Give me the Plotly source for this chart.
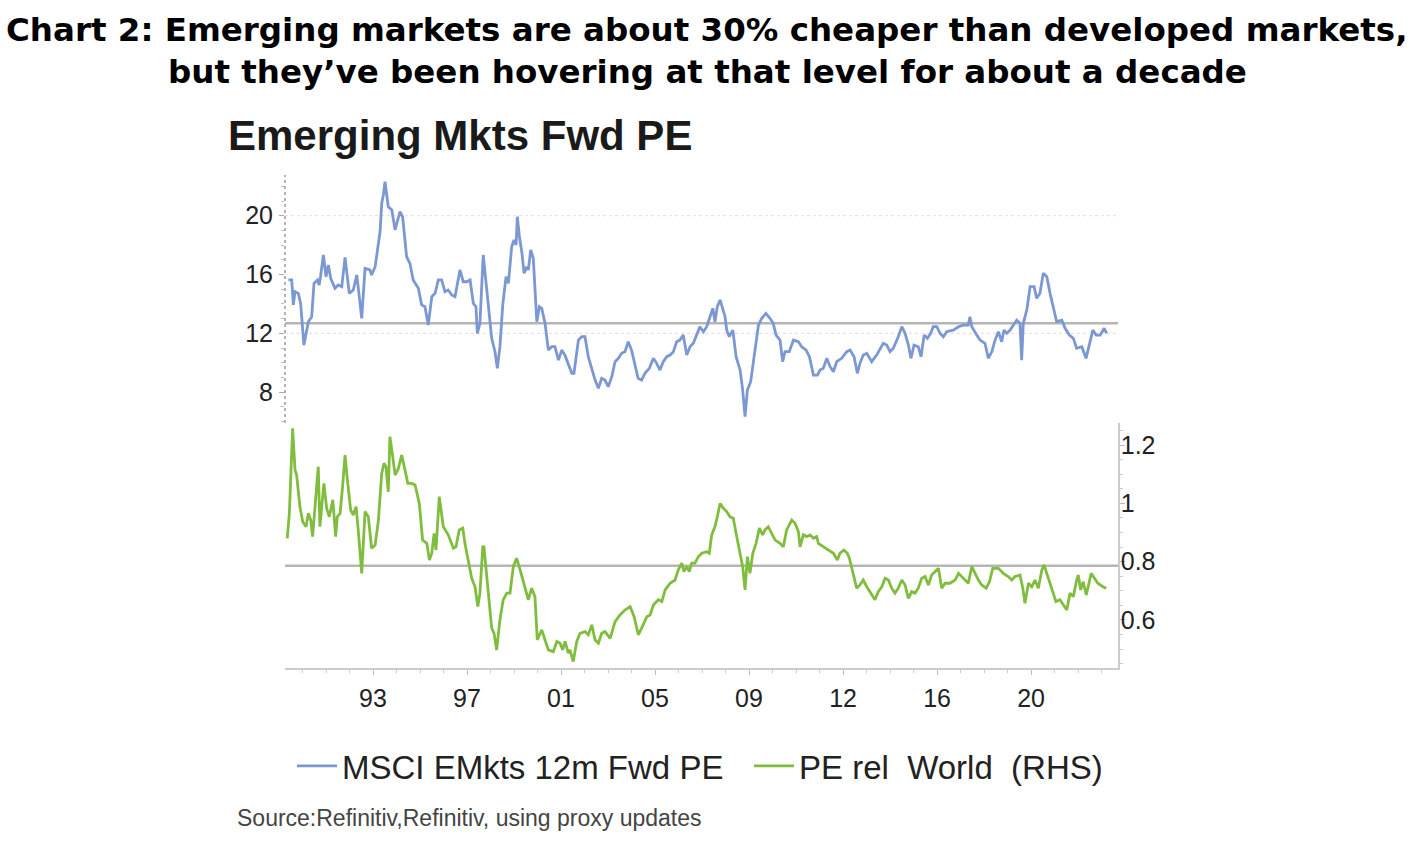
import plotly.graph_objects as go

# ---------------- data ----------------
pe_years = [1989.40, 1989.54, 1989.61, 1989.68, 1989.82, 1989.92, 1990.06, 1990.25, 1990.39, 1990.49,
            1990.63, 1990.71, 1990.77, 1990.89, 1991.00, 1991.10, 1991.20, 1991.38, 1991.52, 1991.67,
            1991.81, 1991.88, 1991.99, 1992.16, 1992.31, 1992.52, 1992.66, 1992.87, 1992.94, 1993.09,
            1993.23, 1993.30, 1993.37, 1993.44, 1993.51, 1993.58, 1993.65, 1993.80, 1993.94, 1994.01,
            1994.15, 1994.26, 1994.43, 1994.57, 1994.71, 1994.93, 1995.07, 1995.21, 1995.35, 1995.50,
            1995.64, 1995.78, 1995.92, 1996.06, 1996.20, 1996.35, 1996.49, 1996.70, 1996.84, 1996.99,
            1997.13, 1997.27, 1997.38, 1997.44, 1997.55, 1997.69, 1997.81, 1997.91, 1998.05, 1998.19,
            1998.29, 1998.40, 1998.52, 1998.66, 1998.76, 1998.90, 1999.00, 1999.09, 1999.14, 1999.23,
            1999.33, 1999.43, 1999.54, 1999.61, 1999.71, 1999.82, 1999.97, 2000.08, 2000.18, 2000.32,
            2000.46, 2000.60, 2000.74, 2000.89, 2001.03, 2001.17, 2001.31, 2001.46, 2001.55, 2001.74,
            2001.88, 2002.02, 2002.16, 2002.31, 2002.45, 2002.59, 2002.73, 2002.87, 2003.01, 2003.16,
            2003.30, 2003.44, 2003.58, 2003.72, 2003.86, 2004.00, 2004.14, 2004.28, 2004.43, 2004.57,
            2004.76, 2004.93, 2005.07, 2005.21, 2005.35, 2005.50, 2005.64, 2005.78, 2005.92, 2006.06,
            2006.20, 2006.35, 2006.49, 2006.63, 2006.77, 2006.91, 2007.06, 2007.20, 2007.34, 2007.46,
            2007.55, 2007.65, 2007.77, 2007.88, 2007.98, 2008.05, 2008.16, 2008.31, 2008.45, 2008.62,
            2008.73, 2008.83, 2008.93, 2009.07, 2009.21, 2009.40, 2009.54, 2009.72, 2009.89, 2010.03,
            2010.15, 2010.32, 2010.43, 2010.53, 2010.71, 2010.89, 2011.10, 2011.24, 2011.43, 2011.57,
            2011.74, 2011.91, 2012.02, 2012.16, 2012.31, 2012.45, 2012.59, 2012.73, 2012.94, 2013.16,
            2013.30, 2013.47, 2013.61, 2013.72, 2013.86, 2014.01, 2014.22, 2014.43, 2014.71, 2014.86,
            2015.00, 2015.14, 2015.35, 2015.50, 2015.64, 2015.78, 2015.89, 2016.02, 2016.20, 2016.32,
            2016.45, 2016.59, 2016.73, 2016.84, 2016.99, 2017.13, 2017.27, 2017.41, 2017.69, 2017.91,
            2018.12, 2018.33, 2018.40, 2018.48, 2018.69, 2018.83, 2019.04, 2019.18, 2019.33, 2019.47,
            2019.61, 2019.75, 2019.85, 2019.97, 2020.11, 2020.25, 2020.39, 2020.53, 2020.60, 2020.67,
            2020.82, 2020.96, 2021.13, 2021.24, 2021.38, 2021.52, 2021.67, 2021.81, 2021.95, 2022.09,
            2022.31, 2022.45, 2022.63, 2022.80, 2022.94, 2023.16, 2023.34, 2023.48, 2023.63, 2023.77,
            2023.94, 2024.11, 2024.22]
pe_values = [15.63, 15.63, 13.93, 14.83, 14.72, 14.04, 11.20, 12.79, 13.13, 15.40,
             15.63, 15.29, 15.90, 17.33, 15.85, 16.65, 15.74, 15.06, 15.29, 15.17,
             17.17, 16.31, 14.72, 14.95, 15.97, 13.02, 16.42, 16.31, 15.97, 16.53,
             18.12, 18.91, 20.84, 21.41, 22.31, 21.29, 20.61, 20.39, 19.03, 19.48,
             20.27, 19.93, 17.21, 16.76, 15.63, 15.06, 13.93, 13.81, 12.56, 14.49,
             14.72, 15.63, 15.63, 14.83, 14.95, 14.61, 14.49, 16.31, 15.51, 15.51,
             15.63, 14.04, 13.81, 12.00, 12.68, 17.33, 15.40, 14.27, 11.66, 10.75,
             9.62, 11.09, 13.93, 15.85, 15.40, 17.89, 18.35, 18.01, 19.93, 18.57,
             17.55, 16.08, 16.53, 16.31, 17.67, 17.10, 12.79, 13.81, 13.70, 12.68,
             10.86, 11.09, 11.09, 10.18, 10.86, 10.50, 9.90, 9.28, 9.28, 11.54,
             11.77, 11.77, 10.41, 9.62, 8.82, 8.26, 8.94, 8.82, 8.37, 9.05,
             10.07, 10.30, 10.64, 10.75, 11.43, 10.86, 9.96, 8.94, 8.82, 9.28,
             9.62, 10.30, 9.96, 9.50, 10.07, 10.41, 10.52, 10.75, 11.43, 11.54,
             11.88, 10.52, 11.09, 11.32, 11.88, 12.45, 12.11, 12.45, 13.13, 13.70,
             12.79, 13.81, 14.27, 13.59, 13.13, 12.22, 11.77, 12.22, 10.41, 9.50,
             8.14, 6.33, 8.14, 8.71, 10.41, 12.56, 13.02, 13.36, 13.02, 12.68,
             11.88, 11.54, 10.07, 10.75, 10.75, 11.54, 11.43, 11.09, 10.86, 10.41,
             9.16, 9.16, 9.50, 9.62, 10.30, 9.73, 9.39, 10.07, 10.30, 10.75,
             10.86, 10.41, 9.28, 9.96, 10.52, 10.64, 10.07, 10.52, 11.32, 11.20,
             10.75, 10.98, 11.77, 12.45, 12.00, 11.20, 10.30, 11.20, 11.09, 10.41,
             11.88, 11.66, 12.00, 12.45, 12.45, 12.00, 11.77, 12.11, 12.22, 12.45,
             12.56, 12.56, 13.13, 12.45, 11.88, 11.54, 11.32, 10.30, 10.75, 11.54,
             12.11, 11.43, 12.22, 12.00, 12.22, 12.56, 12.90, 12.68, 10.18, 12.68,
             13.59, 15.17, 15.17, 14.38, 14.72, 16.08, 15.85, 14.72, 13.81, 12.79,
             12.90, 12.34, 11.88, 11.66, 10.98, 11.09, 10.30, 11.20, 12.22, 11.88,
             11.88, 12.34, 12.00]

rel_years = [1989.35, 1989.44, 1989.58, 1989.68, 1989.75, 1989.89, 1990.01, 1990.15, 1990.25, 1990.35,
             1990.43, 1990.53, 1990.67, 1990.74, 1990.82, 1990.91, 1991.03, 1991.14, 1991.29, 1991.41,
             1991.48, 1991.60, 1991.71, 1991.81, 1991.91, 1992.05, 1992.16, 1992.28, 1992.37, 1992.52,
             1992.66, 1992.80, 1992.94, 1993.09, 1993.23, 1993.37, 1993.47, 1993.55, 1993.65, 1993.72,
             1993.82, 1993.94, 1994.08, 1994.22, 1994.36, 1994.48, 1994.65, 1994.79, 1994.97, 1995.11,
             1995.29, 1995.40, 1995.50, 1995.60, 1995.68, 1995.82, 1995.99, 1996.20, 1996.42, 1996.53,
             1996.67, 1996.82, 1996.91, 1997.06, 1997.20, 1997.34, 1997.46, 1997.55, 1997.67, 1997.72,
             1997.84, 1998.05, 1998.15, 1998.26, 1998.40, 1998.54, 1998.69, 1998.83, 1998.97, 1999.11,
             1999.26, 1999.47, 1999.61, 1999.75, 1999.89, 1999.99, 2000.18, 2000.32, 2000.46, 2000.67,
             2000.82, 2000.96, 2001.07, 2001.17, 2001.31, 2001.38, 2001.52, 2001.67, 2001.81, 2002.02,
             2002.16, 2002.31, 2002.45, 2002.59, 2002.73, 2002.87, 2003.09, 2003.30, 2003.51, 2003.72,
             2003.94, 2004.11, 2004.29, 2004.43, 2004.65, 2004.79, 2004.93, 2005.14, 2005.29, 2005.43,
             2005.64, 2005.85, 2005.99, 2006.14, 2006.23, 2006.35, 2006.46, 2006.56, 2006.70, 2006.84,
             2006.99, 2007.20, 2007.31, 2007.41, 2007.55, 2007.65, 2007.77, 2007.91, 2008.05, 2008.19,
             2008.33, 2008.45, 2008.62, 2008.73, 2008.83, 2008.93, 2009.04, 2009.16, 2009.30, 2009.44,
             2009.58, 2009.68, 2009.82, 2009.97, 2010.11, 2010.32, 2010.46, 2010.60, 2010.82, 2010.96,
             2011.10, 2011.17, 2011.31, 2011.46, 2011.60, 2011.74, 2011.88, 2011.95, 2012.16, 2012.37,
             2012.59, 2012.76, 2012.87, 2013.04, 2013.18, 2013.27, 2013.44, 2013.58, 2013.72, 2013.86,
             2014.01, 2014.15, 2014.36, 2014.50, 2014.65, 2014.79, 2014.93, 2015.07, 2015.21, 2015.35,
             2015.50, 2015.64, 2015.78, 2015.92, 2016.06, 2016.20, 2016.35, 2016.49, 2016.63, 2016.77,
             2016.91, 2017.06, 2017.20, 2017.34, 2017.55, 2017.77, 2017.91, 2018.05, 2018.19, 2018.33,
             2018.48, 2018.62, 2018.76, 2018.90, 2019.09, 2019.23, 2019.37, 2019.61, 2019.82, 2020.03,
             2020.18, 2020.32, 2020.53, 2020.65, 2020.74, 2020.89, 2021.03, 2021.17, 2021.31, 2021.46,
             2021.55, 2021.67, 2021.81, 2021.95, 2022.06, 2022.23, 2022.37, 2022.52, 2022.66, 2022.80,
             2022.94, 2023.01, 2023.11, 2023.22, 2023.35, 2023.48, 2023.56, 2023.70, 2023.84, 2024.06,
             2024.20]
rel_values = [0.880, 0.966, 1.258, 1.115, 1.097, 0.989, 0.937, 0.920, 0.966, 0.943,
              0.886, 1.000, 1.126, 0.920, 1.000, 1.069, 0.983, 0.954, 1.012, 0.886,
              0.954, 0.966, 1.063, 1.166, 1.080, 0.977, 0.960, 0.989, 0.909, 0.760,
              0.972, 0.954, 0.846, 0.857, 0.943, 1.103, 1.138, 1.126, 1.040, 1.229,
              1.172, 1.097, 1.120, 1.166, 1.115, 1.069, 1.069, 1.063, 1.000, 0.874,
              0.863, 0.806, 0.829, 0.897, 0.840, 1.023, 0.920, 0.892, 0.846, 0.851,
              0.909, 0.915, 0.863, 0.806, 0.743, 0.714, 0.646, 0.692, 0.851, 0.851,
              0.749, 0.572, 0.554, 0.497, 0.600, 0.669, 0.692, 0.692, 0.783, 0.812,
              0.772, 0.714, 0.669, 0.709, 0.680, 0.531, 0.566, 0.531, 0.497, 0.491,
              0.526, 0.520, 0.497, 0.526, 0.486, 0.497, 0.457, 0.526, 0.554, 0.560,
              0.549, 0.583, 0.531, 0.520, 0.554, 0.560, 0.537, 0.594, 0.617, 0.634,
              0.646, 0.611, 0.549, 0.572, 0.611, 0.617, 0.651, 0.669, 0.663, 0.703,
              0.726, 0.737, 0.772, 0.795, 0.766, 0.783, 0.766, 0.795, 0.795, 0.817,
              0.829, 0.834, 0.829, 0.892, 0.920, 0.954, 1.000, 0.983, 0.972, 0.954,
              0.949, 0.897, 0.829, 0.783, 0.703, 0.817, 0.760, 0.829, 0.863, 0.915,
              0.892, 0.909, 0.920, 0.897, 0.874, 0.863, 0.851, 0.909, 0.943, 0.932,
              0.903, 0.851, 0.892, 0.886, 0.892, 0.880, 0.886, 0.863, 0.851, 0.840,
              0.829, 0.806, 0.829, 0.840, 0.829, 0.812, 0.760, 0.709, 0.720, 0.737,
              0.714, 0.697, 0.669, 0.697, 0.714, 0.743, 0.737, 0.709, 0.692, 0.709,
              0.737, 0.720, 0.674, 0.697, 0.692, 0.709, 0.743, 0.749, 0.720, 0.754,
              0.766, 0.777, 0.709, 0.726, 0.726, 0.737, 0.760, 0.749, 0.737, 0.726,
              0.783, 0.760, 0.737, 0.720, 0.709, 0.731, 0.777, 0.777, 0.760, 0.749,
              0.737, 0.749, 0.754, 0.709, 0.657, 0.726, 0.714, 0.737, 0.709, 0.772,
              0.789, 0.760, 0.726, 0.697, 0.663, 0.669, 0.651, 0.634, 0.692, 0.680,
              0.737, 0.754, 0.703, 0.731, 0.686, 0.737, 0.760, 0.743, 0.726, 0.714,
              0.709]

pe_average = 12.68
rel_average = 0.786

x_tickvals = [1993, 1997, 2001, 2005, 2009, 2013, 2017, 2021]
x_ticktext = ["93", "97", "01", "05", "09", "12", "16", "20"]
pe_ticks = [8, 12, 16, 20]
rel_tickvals = [0.6, 0.8, 1.0, 1.2]
rel_ticktext = ["0.6", "0.8", "1", "1.2"]

title_line1 = "Chart 2: Emerging markets are about 30% cheaper than developed markets,"
title_line2 = "but they\u2019ve been hovering at that level for about a decade"
subtitle = "Emerging Mkts Fwd PE"
pe_name = "MSCI EMkts 12m Fwd PE"
rel_name = "PE rel\u00a0\u00a0World\u00a0\u00a0(RHS)"
source_text = "Source:Refinitiv,Refinitiv, using proxy updates"

# ---------------- layout geometry ----------------
W, H = 1414, 848
X_RANGE = [1989.255, 2024.70]
xdom = [285 / W, 1118 / W]
top_dom = [1 - 423 / H, 1 - 175 / H]
bot_dom = [1 - 668 / H, 1 - 423 / H]

BLUE = "#7b98d2"
GREEN = "#80bd3f"
TICKFONT = dict(family="Liberation Sans, Arial, sans-serif", size=25, color="#222222")

fig = go.Figure()
fig.add_trace(go.Scatter(x=pe_years, y=pe_values, mode="lines", name=pe_name,
                         line=dict(color=BLUE, width=2.8), xaxis="x", yaxis="y"))
fig.add_trace(go.Scatter(x=rel_years, y=rel_values, mode="lines", name=rel_name,
                         line=dict(color=GREEN, width=2.8), xaxis="x2", yaxis="y2"))

minor_years = list(range(1990, 2025))

fig.update_layout(
    width=W, height=H,
    margin=dict(l=0, r=0, t=0, b=0),
    paper_bgcolor="white", plot_bgcolor="white",
    showlegend=True,
    legend=dict(orientation="h", x=292 / W, xanchor="left", y=1 - 766 / H, yanchor="middle",
                font=dict(family="Liberation Sans, Arial, sans-serif", size=33, color="#222222"),
                bgcolor="rgba(0,0,0,0)", itemwidth=40, entrywidth=402, tracegroupgap=0),
    xaxis=dict(domain=xdom, range=X_RANGE, anchor="y", showgrid=False, zeroline=False,
               showline=False, showticklabels=False, ticks=""),
    yaxis=dict(domain=top_dom, range=[5.90, 22.77], anchor="x", showgrid=False, zeroline=False,
               showline=False, tickmode="array", tickvals=pe_ticks, ticks="outside", ticklen=5,
               tickcolor="#aaaaaa", tickfont=TICKFONT, ticklabelstandoff=1,
               minor=dict(tickvals=list(range(6, 23)), ticks="outside", ticklen=3, tickcolor="#bbbbbb")),
    xaxis2=dict(domain=xdom, range=X_RANGE, anchor="y2", showgrid=False, zeroline=False,
                showline=True, linecolor="#cccccc", linewidth=1.5, tickmode="array",
                tickvals=x_tickvals, ticktext=x_ticktext, ticks="outside", ticklen=5,
                tickcolor="#bbbbbb", tickfont=TICKFONT, ticklabelstandoff=2,
                minor=dict(tickvals=minor_years, ticks="outside", ticklen=3, tickcolor="#cccccc")),
    yaxis2=dict(domain=bot_dom, range=[0.435, 1.276], anchor="x2", side="right", showgrid=False,
                zeroline=False, showline=True, linecolor="#cccccc", linewidth=1.5, tickmode="array",
                tickvals=rel_tickvals, ticktext=rel_ticktext, ticks="outside", ticklen=5,
                tickcolor="#bbbbbb", tickfont=TICKFONT, ticklabelstandoff=-9,
                minor=dict(tickvals=[0.45 + 0.05 * i for i in range(17)], ticks="outside", ticklen=3,
                           tickcolor="#cccccc")),
)

shapes = [
    # dotted left axis of top panel
    dict(type="line", xref="x domain", yref="y domain", x0=0, x1=0, y0=0, y1=1,
         line=dict(color="#9a9a9a", width=1.5, dash="dot"), layer="below"),
    # faint dotted gridlines
    dict(type="line", xref="x domain", yref="y", x0=0, x1=1, y0=20, y1=20,
         line=dict(color="#dddddd", width=1, dash="dot"), layer="below"),
    dict(type="line", xref="x domain", yref="y", x0=0, x1=1, y0=12, y1=12,
         line=dict(color="#dddddd", width=1, dash="dot"), layer="below"),
    # average lines
    dict(type="line", xref="x domain", yref="y", x0=0, x1=1, y0=pe_average, y1=pe_average,
         line=dict(color="#b5b5b5", width=2.5), layer="below"),
    dict(type="line", xref="x2 domain", yref="y2", x0=0, x1=1, y0=rel_average, y1=rel_average,
         line=dict(color="#b5b5b5", width=2.5), layer="below"),
]
fig.update_layout(shapes=shapes)

TITLE_FONT = dict(family="DejaVu Sans, Verdana, sans-serif", size=32.5, color="#000000")
annotations = [
    dict(text="<b>" + title_line1 + "</b>", xref="paper", yref="paper", x=0.5, y=1 - 30 / H,
         xanchor="center", yanchor="middle", showarrow=False, font=TITLE_FONT),
    dict(text="<b>" + title_line2 + "</b>", xref="paper", yref="paper", x=0.5, y=1 - 72 / H,
         xanchor="center", yanchor="middle", showarrow=False, font=TITLE_FONT),
    dict(text="<b>" + subtitle + "</b>", xref="paper", yref="paper", x=226 / W, y=1 - 135 / H,
         xanchor="left", yanchor="middle", showarrow=False,
         font=dict(family="Liberation Sans, Arial, sans-serif", size=42, color="#1a1a1a")),
    dict(text=source_text, xref="paper", yref="paper", x=235 / W, y=1 - 818 / H,
         xanchor="left", yanchor="middle", showarrow=False,
         font=dict(family="Liberation Sans, Arial, sans-serif", size=23, color="#444444")),
]
fig.update_layout(annotations=annotations)

fig.write_html("out.html", config={"displayModeBar": False},
               post_script="document.body.style.margin='0px';")
